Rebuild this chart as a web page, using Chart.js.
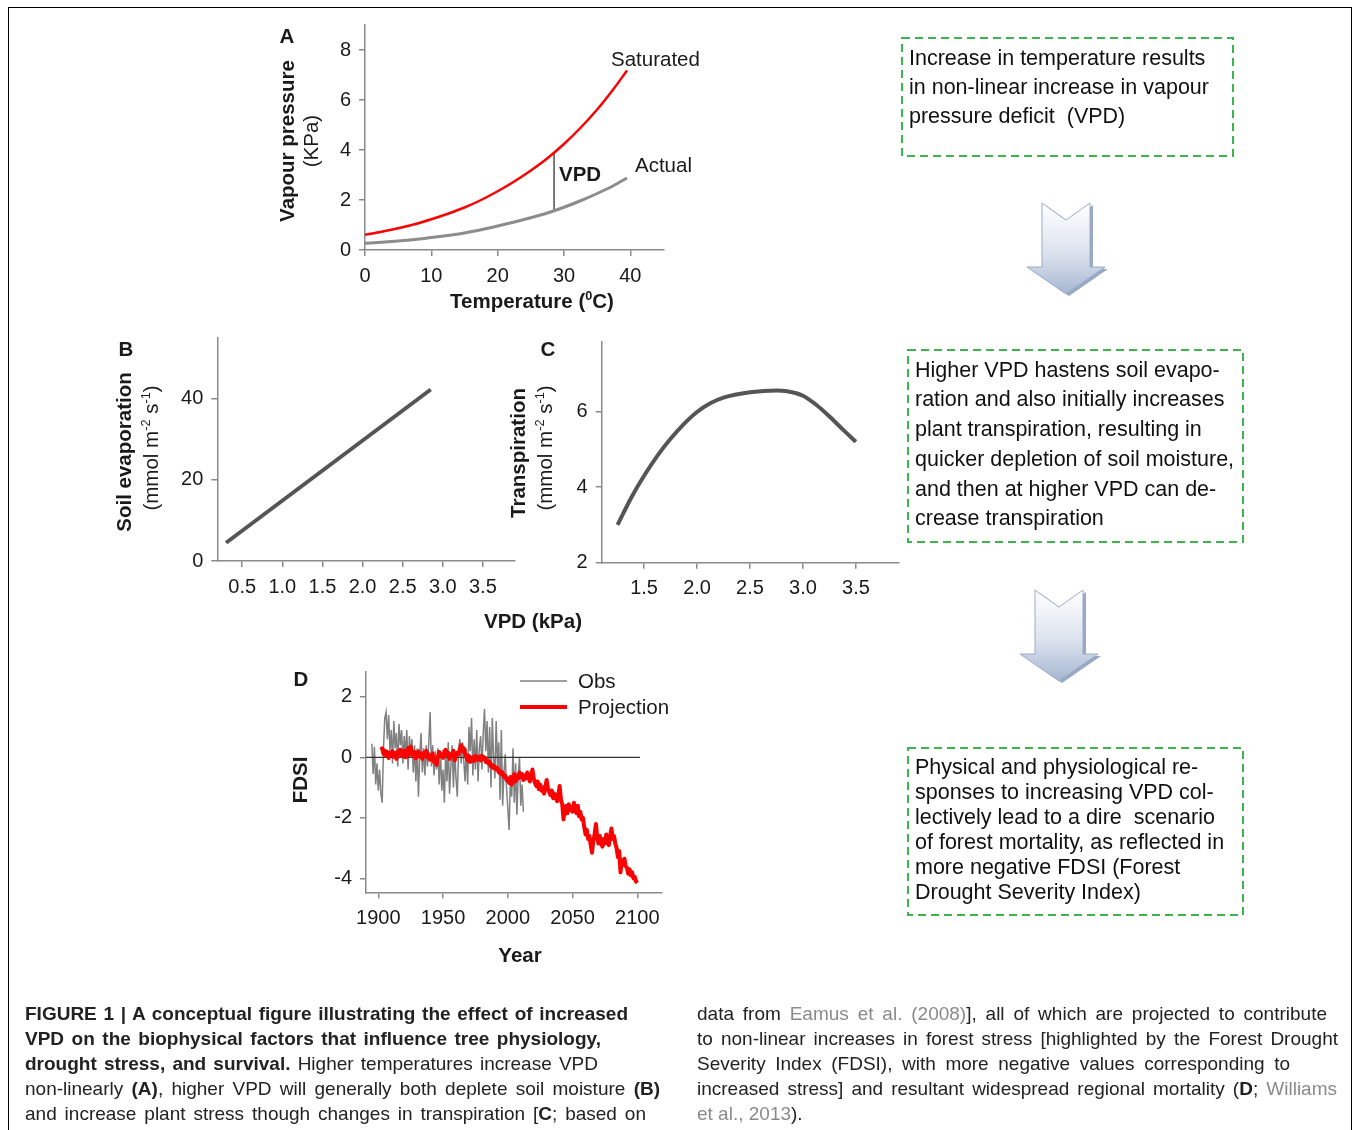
<!DOCTYPE html>
<html><head><meta charset="utf-8">
<script src="https://cdn.jsdelivr.net/npm/chart.js@4.4.1/dist/chart.umd.min.js"></script>
<style>
body{margin:0;background:#fff;width:1355px;height:1130px;overflow:hidden;position:relative;font-family:"Liberation Sans",Arial,sans-serif;color:#1a1a1a}
canvas{position:absolute}
.t{position:absolute;white-space:nowrap;line-height:1;font-size:20.5px}
.c{transform:translate(-50%,-50%)}
.l{transform:translateY(-50%)}
.r{transform:translate(-50%,-50%) rotate(-90deg)}
.b{font-weight:bold}
sup{font-size:0.62em;line-height:0;vertical-align:0.62em}
.frame{position:absolute;left:8px;top:7px;width:1344px;height:1200px;border:1.5px solid #000;border-bottom:none;box-sizing:border-box}
.bx{position:absolute;white-space:nowrap;font-size:21.5px;line-height:1;color:#111}
.cap{position:absolute;white-space:nowrap;font-family:"Liberation Sans Narrow","Arial Narrow","Liberation Sans",sans-serif;font-size:19px;line-height:1;color:#222;text-align:justify;text-align-last:justify;transform:translateY(-50%)}
.cap.n{text-align:left;text-align-last:left}
.g{color:#8a8a8a}
svg{position:absolute;left:0;top:0}
</style></head>
<body>
<div class="frame"></div>
<canvas id="cA"></canvas>
<canvas id="cB"></canvas>
<canvas id="cC"></canvas>
<canvas id="cD"></canvas>

<svg width="1355" height="1130">
<defs>
<linearGradient id="ag" x1="0" y1="0" x2="0" y2="1">
<stop offset="0" stop-color="#ffffff"/><stop offset="0.55" stop-color="#dce3ee"/><stop offset="1" stop-color="#a6b6d0"/>
</linearGradient>
</defs>
<rect x="902" y="38" width="331" height="118" fill="none" stroke="#3db54f" stroke-width="2" stroke-dasharray="8 5"/>
<rect x="908" y="350" width="335" height="192" fill="none" stroke="#3db54f" stroke-width="2" stroke-dasharray="8 5"/>
<rect x="908" y="748" width="335" height="167" fill="none" stroke="#3db54f" stroke-width="2" stroke-dasharray="8 5"/>
<g>
<polygon points="1045,205 1069,222 1093,205 1093,269 1108,269 1069,296 1030,269 1045,269" fill="#98a9c6"/>
<polygon points="1042,203 1066,220 1090,203 1090,267 1105,267 1066,294 1027,267 1042,267" fill="url(#ag)" stroke="#9aabc7" stroke-width="1"/>
</g>
<g transform="translate(-7,387)">
<polygon points="1045,205 1069,222 1093,205 1093,269 1108,269 1069,296 1030,269 1045,269" fill="#98a9c6"/>
<polygon points="1042,203 1066,220 1090,203 1090,267 1105,267 1066,294 1027,267 1042,267" fill="url(#ag)" stroke="#9aabc7" stroke-width="1"/>
</g>
<line x1="520" y1="681" x2="567" y2="681" stroke="#7f7f7f" stroke-width="1.6"/>
<line x1="520" y1="707" x2="567" y2="707" stroke="#ff0000" stroke-width="4"/>
</svg>

<!-- Panel A labels -->
<div class="t b c" style="left:287px;top:36px">A</div>
<div class="t r b" style="left:287px;top:141px">Vapour pressure</div>
<div class="t r" style="left:311px;top:141px">(KPa)</div>
<div class="t l" style="left:611px;top:59px">Saturated</div>
<div class="t l" style="left:635px;top:165px">Actual</div>
<div class="t b l" style="left:559px;top:174px">VPD</div>
<div class="t b c" style="left:532px;top:301px">Temperature (<sup>0</sup>C)</div>

<!-- Panel B / C labels -->
<div class="t b c" style="left:126px;top:349px">B</div>
<div class="t r b" style="left:124px;top:452px">Soil evaporation</div>
<div class="t r" style="left:151px;top:448px">(mmol m<sup>-2</sup> s<sup>-1</sup>)</div>
<div class="t b c" style="left:548px;top:349px">C</div>
<div class="t r b" style="left:518px;top:453px">Transpiration</div>
<div class="t r" style="left:545px;top:448px">(mmol m<sup>-2</sup> s<sup>-1</sup>)</div>
<div class="t b c" style="left:533px;top:621px">VPD (kPa)</div>

<!-- Panel D labels -->
<div class="t b c" style="left:301px;top:679px">D</div>
<div class="t r b" style="left:300px;top:780px">FDSI</div>
<div class="t b c" style="left:520px;top:955px">Year</div>
<div class="t l" style="left:578px;top:681px">Obs</div>
<div class="t l" style="left:578px;top:707px">Projection</div>

<!-- Right boxes -->
<div class="bx l" style="left:909px;top:59px">Increase in temperature results</div>
<div class="bx l" style="left:909px;top:88px">in non-linear increase in vapour</div>
<div class="bx l" style="left:909px;top:117px">pressure deficit&nbsp; (VPD)</div>

<div class="bx l" style="left:915px;top:371px">Higher VPD hastens soil evapo-</div>
<div class="bx l" style="left:915px;top:400px">ration and also initially increases</div>
<div class="bx l" style="left:915px;top:430px">plant transpiration, resulting in</div>
<div class="bx l" style="left:915px;top:460px">quicker depletion of soil moisture,</div>
<div class="bx l" style="left:915px;top:490px">and then at higher VPD can de-</div>
<div class="bx l" style="left:915px;top:519px">crease transpiration</div>

<div class="bx l" style="left:915px;top:768px">Physical and physiological re-</div>
<div class="bx l" style="left:915px;top:793px">sponses to increasing VPD col-</div>
<div class="bx l" style="left:915px;top:818px">lectively lead to a dire&nbsp; scenario</div>
<div class="bx l" style="left:915px;top:843px">of forest mortality, as reflected in</div>
<div class="bx l" style="left:915px;top:868px">more negative FDSI (Forest</div>
<div class="bx l" style="left:915px;top:893px">Drought Severity Index)</div>

<!-- Caption -->
<div class="cap" style="left:25px;top:1013px;width:603px"><b>FIGURE 1 | A conceptual figure illustrating the effect of increased</b></div>
<div class="cap" style="left:25px;top:1038px;width:576px"><b>VPD on the biophysical factors that influence tree physiology,</b></div>
<div class="cap" style="left:25px;top:1063px;width:573px"><b>drought stress, and survival.</b> Higher temperatures increase VPD</div>
<div class="cap" style="left:25px;top:1088px;width:635px">non-linearly <b>(A)</b>, higher VPD will generally both deplete soil moisture <b>(B)</b></div>
<div class="cap" style="left:25px;top:1113px;width:621px">and increase plant stress though changes in transpiration [<b>C</b>; based on</div>
<div class="cap" style="left:697px;top:1013px;width:630px">data from <span class="g">Eamus et al. (2008)</span>], all of which are projected to contribute</div>
<div class="cap" style="left:697px;top:1038px;width:641px">to non-linear increases in forest stress [highlighted by the Forest Drought</div>
<div class="cap" style="left:697px;top:1063px;width:593px">Severity Index (FDSI), with more negative values corresponding to</div>
<div class="cap" style="left:697px;top:1088px;width:640px">increased stress] and resultant widespread regional mortality (<b>D</b>; <span class="g">Williams</span></div>
<div class="cap n" style="left:697px;top:1113px"><span class="g">et al., 2013</span>).</div>

<script>
// ---------- Panel A: vapour pressure vs temperature ----------
const tempA      = [0, 2.5, 5, 7.5, 10, 12.5, 15, 17.5, 20, 22.5, 25, 27.5, 30, 32.5, 35, 37.5, 39.5];
const saturatedA = [0.61, 0.73, 0.87, 1.03, 1.23, 1.45, 1.70, 2.00, 2.35, 2.74, 3.18, 3.67, 4.24, 4.89, 5.62, 6.45, 7.18];
const actualA    = [0.27, 0.31, 0.36, 0.42, 0.50, 0.58, 0.68, 0.81, 0.96, 1.12, 1.29, 1.48, 1.71, 1.97, 2.26, 2.58, 2.88];
const vpdMarkX = 28.5, vpdMarkLow = 1.55, vpdMarkHigh = 3.9;
const ticksAx = [0, 10, 20, 30, 40];
const ticksAy = [0, 2, 4, 6, 8];

// ---------- Panel B: soil evaporation vs VPD ----------
const vpdB   = [0.3, 2.85];
const evapB  = [4.5, 42.3];
const ticksBx = [0.5, 1.0, 1.5, 2.0, 2.5, 3.0, 3.5];
const ticksBy = [0, 20, 40];

// ---------- Panel C: transpiration vs VPD ----------
const vpdC   = [1.25, 1.375, 1.5, 1.625, 1.75, 1.875, 2.0, 2.125, 2.25, 2.5, 2.75, 2.85, 3.0, 3.125, 3.25, 3.375, 3.5];
const transC = [3.0, 3.70, 4.30, 4.83, 5.28, 5.67, 5.99, 6.22, 6.37, 6.51, 6.56, 6.54, 6.42, 6.18, 5.87, 5.53, 5.2];
const ticksCx = [1.5, 2.0, 2.5, 3.0, 3.5];
const ticksCy = [2, 4, 6];

// ---------- Panel D: FDSI ----------
const obsStart = 1895;
const obsFDSI = [
 0.45,-0.55,0.35,-0.9,-0.2,-1.1,-0.4,-1.2,-1.5,0.3,
 1.3,1.5,0.6,1.4,0.2,0.9,-0.2,1.2,0.3,0.8,
 -0.3,1.1,0.4,0.9,-0.2,0.7,0.1,0.9,-0.4,0.7,
 0.1,0.6,-0.5,0.4,-0.8,0.3,-1.3,0.1,0.8,-0.5,
 0.3,-0.6,0.4,-0.3,0.5,1.5,-0.3,0.4,-0.6,0.2,
 -0.4,0.3,-0.9,0.2,-1.1,-0.4,-1.5,0.2,-0.8,0.5,
 -1.2,-0.3,0.4,-1.0,0.2,-0.7,-1.3,0.3,0.6,-0.2,
 0.5,-0.1,-0.8,0.3,-0.9,1.0,0.2,1.3,-0.6,0.6,
 -0.4,0.9,-0.8,0.3,0.7,-0.4,0.8,1.6,0.2,1.2,
 -0.5,1.0,-1.0,1.3,0.0,-0.7,1.2,-0.3,0.5,-1.4,
 0.9,-1.6,-0.5,0.1,-1.0,-1.7,-2.4,-0.6,-1.3,0.3,
 -1.5,-0.2,-1.9,-0.6,0.0,-1.6,-0.9,-1.8];
const projStart = 1902;
const projFDSI = [
 0.25,0.30,0.12,0.22,0.05,0.18,-0.02,0.15,0.08,0.20,
 0.02,0.14,-0.05,0.20,0.10,0.25,0.05,0.12,0.22,0.00,
 0.15,0.30,0.08,0.35,0.12,0.05,0.18,-0.03,0.10,0.20,
 0.02,0.12,-0.05,0.15,0.05,0.22,0.00,0.10,-0.08,0.05,
 0.12,-0.15,-0.05,-0.25,0.00,0.18,0.05,0.10,-0.02,0.20,
 0.25,0.08,0.15,-0.05,0.10,0.05,0.22,-0.10,0.05,0.15,
 0.10,0.28,0.40,0.20,0.30,0.12,0.00,-0.10,0.05,-0.15,
 -0.05,0.00,-0.12,0.05,-0.08,-0.02,0.02,-0.10,0.05,-0.05,
 0.00,-0.15,-0.10,-0.20,-0.15,-0.30,-0.25,-0.35,-0.30,-0.40,
 -0.35,-0.50,-0.45,-0.55,-0.50,-0.65,-0.60,-0.75,-0.70,-0.85,
 -0.65,-0.90,-0.75,-0.55,-0.80,-0.60,-0.70,-0.50,-0.65,-0.55,
 -0.75,-0.60,-0.70,-0.50,-0.65,-0.80,-0.60,-0.40,-0.70,-0.85,
 -0.95,-0.80,-1.05,-0.90,-1.10,-1.00,-1.20,-0.95,-0.75,-1.05,
 -1.15,-1.25,-1.10,-1.35,-1.20,-1.30,-1.45,-1.25,-0.95,-1.40,
 -1.55,-2.05,-1.70,-1.60,-1.85,-1.55,-1.75,-1.65,-1.80,-1.50,
 -1.70,-1.85,-1.60,-1.95,-1.80,-2.05,-2.00,-2.30,-2.55,-2.40,
 -2.70,-2.60,-2.90,-3.15,-2.75,-2.55,-2.20,-2.65,-2.85,-2.60,
 -2.80,-2.95,-2.70,-2.85,-2.55,-2.75,-2.90,-2.60,-2.35,-2.70,
 -2.60,-2.85,-3.00,-3.30,-3.10,-3.80,-3.40,-3.55,-3.35,-3.60,
 -3.65,-3.85,-3.70,-3.90,-3.80,-4.00,-3.95,-4.10,-4.15];
const zeroLineX = [1890.5, 2102];
const ticksDx = [1900, 1950, 2000, 2050, 2100];
const ticksDy = [-4, -2, 0, 2];

// ---------- helpers ----------
const pts = (xs, ys) => xs.map((x, i) => ({x: x, y: ys[i]}));
const yearPts = (start, ys) => ys.map((y, i) => ({x: start + i, y: y}));
const AXIS = '#8a8a8a';

function axis(min, max, ticks, fmt, size, isX) {
  return {
    type: 'linear', min: min, max: max,
    afterBuildTicks: s => { s.ticks = ticks.map(v => ({value: v})); },
    afterFit: s => { if (isX) s.height = size; else s.width = size; },
    grid: {display: true, drawOnChartArea: false, drawTicks: true, tickLength: 6, color: AXIS, lineWidth: 1.5},
    border: {display: true, color: AXIS, width: 1.5},
    ticks: {color: '#1a1a1a', font: {family: 'Liberation Sans', size: 20}, padding: 8,
            maxRotation: 0, autoSkip: false, callback: fmt}
  };
}

function mk(id, box, area, xr, yr, datasets) {
  const cv = document.getElementById(id);
  cv.width = box.w; cv.height = box.h;
  cv.style.left = box.l + 'px'; cv.style.top = box.t + 'px';
  const yW = area.l - box.l, xH = box.t + box.h - area.b;
  const padT = area.t - box.t, padR = box.l + box.w - area.r;
  new Chart(cv, {
    type: 'line',
    data: {datasets: datasets},
    options: {
      responsive: false, animation: false,
      layout: {padding: {top: padT, right: padR, left: 0, bottom: 0}},
      plugins: {legend: {display: false}, tooltip: {enabled: false}},
      elements: {point: {radius: 0}},
      scales: {
        x: axis(xr[0], xr[1], xr[2], xr[3], xH, true),
        y: axis(yr[0], yr[1], yr[2], yr[3], yW, false)
      }
    }
  });
}
const plain = v => String(v);
const oneDec = v => Number(v).toFixed(1);

mk('cA', {l: 320, t: -1, w: 370, h: 316}, {l: 365, t: 25, r: 663.5, b: 250},
  [0, 45, ticksAx, plain], [0, 9, ticksAy, plain], [
  {data: pts(tempA, saturatedA), borderColor: '#ff0000', borderWidth: 2.5, cubicInterpolationMode: 'monotone'},
  {data: pts(tempA, actualA), borderColor: '#8c8c8c', borderWidth: 3, cubicInterpolationMode: 'monotone'},
  {data: [{x: vpdMarkX, y: vpdMarkLow}, {x: vpdMarkX, y: vpdMarkHigh}], borderColor: '#222', borderWidth: 1.2}
]);

mk('cB', {l: 170, t: 312, w: 360, h: 298}, {l: 217.3, t: 338, r: 515, b: 561},
  [0.19, 3.9, ticksBx, oneDec], [0, 55, ticksBy, plain], [
  {data: pts(vpdB, evapB), borderColor: '#555555', borderWidth: 4}
]);

mk('cC', {l: 560, t: 315, w: 350, h: 295}, {l: 601.7, t: 341.7, r: 898.3, b: 562.7},
  [1.1, 3.9, ticksCx, oneDec], [2, 7.85, ticksCy, plain], [
  {data: pts(vpdC, transC), borderColor: '#555555', borderWidth: 4, cubicInterpolationMode: 'monotone'}
]);

mk('cD', {l: 320, t: 645, w: 360, h: 295}, {l: 366, t: 671.7, r: 661.7, b: 892.3},
  [1890.5, 2118.8, ticksDx, plain], [-4.46, 2.83, ticksDy, plain], [
  {data: yearPts(projStart, projFDSI), borderColor: '#ff0000', borderWidth: 4, borderJoinStyle: 'round'},
  {data: [{x: zeroLineX[0], y: 0}, {x: zeroLineX[1], y: 0}], borderColor: '#333', borderWidth: 1.2},
  {data: yearPts(obsStart, obsFDSI), borderColor: '#808080', borderWidth: 1.5}
]);
</script>
</body></html>
